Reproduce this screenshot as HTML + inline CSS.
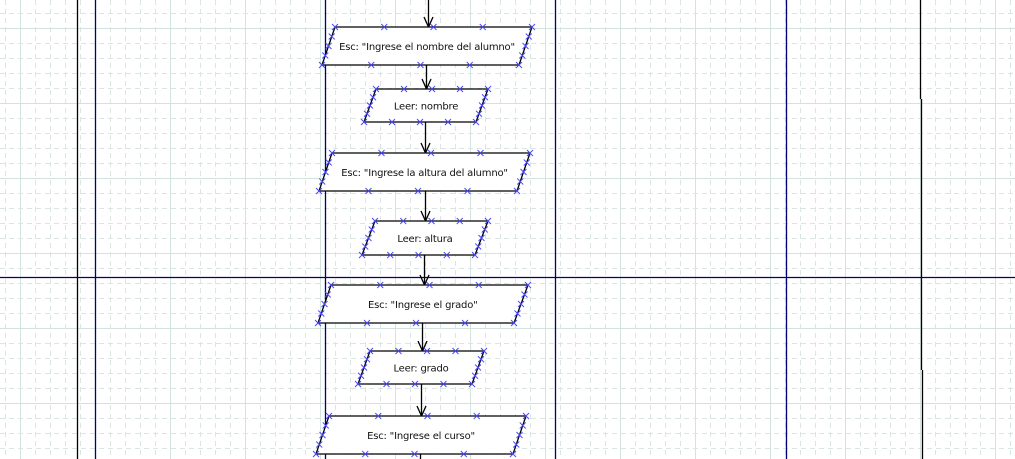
<!DOCTYPE html>
<html><head><meta charset="utf-8"><style>
html,body{margin:0;padding:0;background:#fff;}
svg{display:block}
text{font-family:"DejaVu Sans","Liberation Sans",sans-serif;font-size:10px;letter-spacing:-0.2px;fill:#111}
</style></head><body>
<svg id="s" width="1015" height="459" xmlns="http://www.w3.org/2000/svg">
<g id="grid"></g>
<g stroke-width="1.3" fill="none">
<line x1="77.5" y1="0" x2="77.5" y2="459" stroke="#000"/>
<line x1="95.5" y1="0" x2="95.5" y2="459" stroke="#00007a"/>
<line x1="325.5" y1="0" x2="325.5" y2="459" stroke="#00007a"/>
<line x1="555.5" y1="0" x2="555.5" y2="459" stroke="#00007a"/>
<line x1="786.5" y1="0" x2="786.5" y2="459" stroke="#00007a"/>
<line x1="920.5" y1="0" x2="920.5" y2="99" stroke="#000"/>
<line x1="921.5" y1="99" x2="921.5" y2="370" stroke="#000"/>
<line x1="922.5" y1="370" x2="922.5" y2="459" stroke="#000"/>
<line x1="0" y1="277.5" x2="1015" y2="277.5" stroke="#00007a"/>
</g>
<g id="shapes"></g>
</svg>
<script>
var NS="http://www.w3.org/2000/svg";
function el(p,t,a,txt){var e=document.createElementNS(NS,t);for(var k in a)e.setAttribute(k,a[k]);if(txt)e.textContent=txt;p.appendChild(e);return e;}
var g=document.getElementById("grid");
for(var x=5;x<1015;x+=15){var solid=((x-20)%75===0);el(g,"line",{x1:x+.5,y1:0,x2:x+.5,y2:459,stroke:solid?"#d3e3e0":"#dbe5e3","stroke-width":1,"stroke-dasharray":solid?"":"5,4"});}
for(var y=13;y<459;y+=15){var solid=((y-28)%75===0);el(g,"line",{x1:0,y1:y+.5,x2:1015,y2:y+.5,stroke:solid?"#d3e3e0":"#dbe5e3","stroke-width":1,"stroke-dasharray":solid?"":"5,4"});}
var sh=document.getElementById("shapes");
var S=[
[27,65,335,532,322,519,'Esc: "Ingrese el nombre del alumno"'],
[89,122,376,488,364,476,'Leer: nombre'],
[153,191,332,530,319,517,'Esc: "Ingrese la altura del alumno"'],
[221,255,375,488,362,475,'Leer: altura'],
[285,323,331,528,318,514,'Esc: "Ingrese el grado"'],
[351,384,370,484,358,472,'Leer: grado'],
[416,454,329,526,316,513,'Esc: "Ingrese el curso"']];
function xm(x,y){el(sh,"path",{d:"M"+(x-3)+" "+(y-3)+"L"+(x+3)+" "+(y+3)+"M"+(x+3)+" "+(y-3)+"L"+(x-3)+" "+(y+3),stroke:"#4a4aff","stroke-width":1,fill:"none"});}
function arrow(x,y1,y2){el(sh,"line",{x1:x+.5,y1:y1,x2:x+.5,y2:y2,stroke:"#000","stroke-width":1.3});
el(sh,"path",{d:"M"+(x-4)+" "+(y2-10)+"L"+(x+.5)+" "+y2+"L"+(x+5)+" "+(y2-10),stroke:"#000","stroke-width":1.3,fill:"none"});}
arrow(428,0,27);
var cx=[426,425,425,424,422,421];
for(var i=0;i<S.length;i++){var s=S[i];
el(sh,"polygon",{points:s[2]+","+s[0]+" "+s[3]+","+s[0]+" "+s[5]+","+s[1]+" "+s[4]+","+s[1],fill:"#fff",stroke:"#000","stroke-width":1.3});
el(sh,"text",{x:(s[2]+s[3]+s[4]+s[5])/4,y:(s[0]+s[1])/2+4,"text-anchor":"middle"},s[6]);
for(var k=0;k<=4;k++){xm(s[2]+(s[3]-s[2])*k/4,s[0]);xm(s[4]+(s[5]-s[4])*k/4,s[1]);}
for(var k=1;k<4;k++){var t=k/4;xm(s[2]+(s[4]-s[2])*t,s[0]+(s[1]-s[0])*t);xm(s[3]+(s[5]-s[3])*t,s[0]+(s[1]-s[0])*t);}
if(i<cx.length)arrow(cx[i],s[1],S[i+1][0]);}
el(sh,"line",{x1:420.5,y1:454,x2:420.5,y2:459,stroke:"#000","stroke-width":1.3});
</script>
</body></html>
